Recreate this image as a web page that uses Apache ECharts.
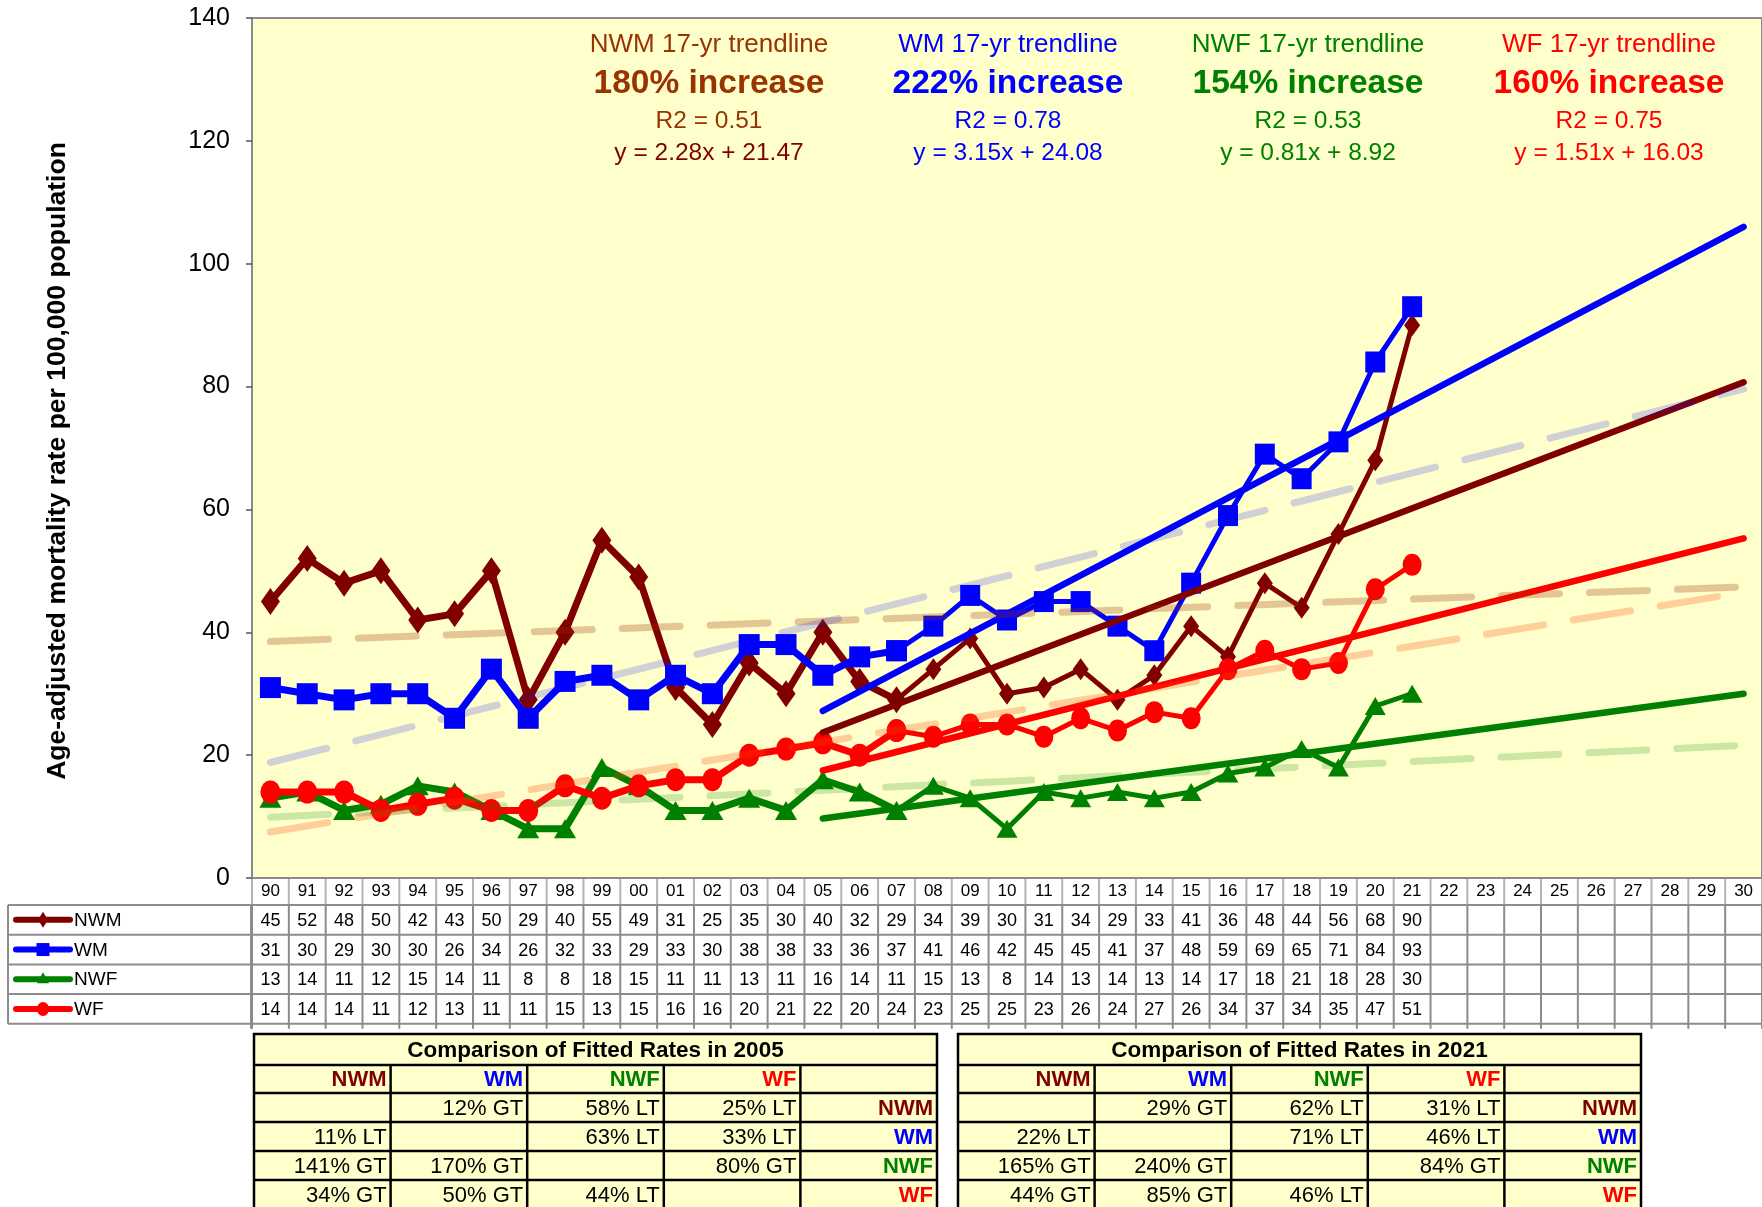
<!DOCTYPE html>
<html>
<head>
<meta charset="utf-8">
<style>
html, body { margin: 0; padding: 0; background: #fff; }
#main { width: 1762px; height: 1207px; }
</style>
</head>
<body>
<div id="main"></div>
<script src="https://cdn.jsdelivr.net/npm/echarts@6/dist/echarts.min.js"></script>
<script>
// ---- data ----
var years = ['90','91','92','93','94','95','96','97','98','99','00','01','02','03','04','05','06','07','08','09',
             '10','11','12','13','14','15','16','17','18','19','20','21','22','23','24','25','26','27','28','29','30'];

var nwm = [45,52,48,50,42,43,50,29,40,55,49,31,25,35,30,40,32,29,34,39,30,31,34,29,33,41,36,48,44,56,68,90];
var wm  = [31,30,29,30,30,26,34,26,32,33,29,33,30,38,38,33,36,37,41,46,42,45,45,41,37,48,59,69,65,71,84,93];
var nwf = [13,14,11,12,15,14,11,8,8,18,15,11,11,13,11,16,14,11,15,13,8,14,13,14,13,14,17,18,21,18,28,30];
var wf  = [14,14,14,11,12,13,11,11,15,13,15,16,16,20,21,22,20,24,23,25,25,23,26,24,27,26,34,37,34,35,47,51];

// 17-yr fitted trendlines: value at 05 and at 30
var nwmTrend = [23.7, 80.7];
var wmTrend  = [27.2, 106.0];
var nwfTrend = [9.7, 30.0];
var wfTrend  = [17.5, 55.3];

// long-term (dashed) trendlines: value at 90 and at 30
var nwmLong = [38.5, 47.4];
var wmLong  = [18.8, 79.6];
var nwfLong = [9.9, 21.6];
var wfLong  = [7.5, 46.5];

var trendTitles = ['NWM 17-yr trendline', 'WM 17-yr trendline', 'NWF 17-yr trendline', 'WF 17-yr trendline'];
var trendIncrease = ['180% increase', '222% increase', '154% increase', '160% increase'];
var trendR2 = ['R2 = 0.51', 'R2 = 0.78', 'R2 = 0.53', 'R2 = 0.75'];
var trendEq = ['y = 2.28x + 21.47', 'y = 3.15x + 24.08', 'y = 0.81x + 8.92', 'y = 1.51x + 16.03'];

var groupNames = ['NWM', 'WM', 'NWF', 'WF'];
var cmp2005 = [
  ['', '12% GT', '58% LT', '25% LT'],
  ['11% LT', '', '63% LT', '33% LT'],
  ['141% GT', '170% GT', '', '80% GT'],
  ['34% GT', '50% GT', '44% LT', '']
];
var cmp2021 = [
  ['', '29% GT', '62% LT', '31% LT'],
  ['22% LT', '', '71% LT', '46% LT'],
  ['165% GT', '240% GT', '', '84% GT'],
  ['44% GT', '85% GT', '46% LT', '']
];

// ---- styles ----
var FONT = '"Liberation Sans", Arial, sans-serif';
var NARROW = '"Liberation Sans Narrow", "Liberation Sans", sans-serif';
var ellipse = 'path://M0,10 A9,10 0 1 1 18,10 A9,10 0 1 1 0,10 Z';

var groups = [
  { name: 'NWM', data: nwm, trend: nwmTrend, long: nwmLong, color: '#800000', textColor: '#993300',
    symbol: 'diamond', size: [19, 27], size2: [16, 22], longOpacity: 0.28 },
  { name: 'WM', data: wm, trend: wmTrend, long: wmLong, color: '#0000ff', textColor: '#0000ff',
    symbol: 'rect', size: [21, 21], size2: [20, 21], longOpacity: 0.18 },
  { name: 'NWF', data: nwf, trend: nwfTrend, long: nwfLong, color: '#008000', textColor: '#008000',
    symbol: 'triangle', size: [22, 19], size2: [21, 18], longOpacity: 0.2 },
  { name: 'WF', data: wf, trend: wfTrend, long: wfLong, color: '#ff0000', textColor: '#ff0000',
    symbol: ellipse, size: [20, 23], size2: [19, 22], longOpacity: 0.25 }
];
var longColors = ['#993300', '#0000ff', '#008000', '#ff4000'];

var SPLIT = 17; // later years drawn thinner

function part(arr, from, to) {
  return years.map(function (y, i) {
    return (i >= from && i <= to && i < arr.length) ? arr[i] : null;
  });
}

var series = [];
groups.forEach(function (g) {
  series.push({
    type: 'line', name: g.name, data: part(g.data, 0, SPLIT),
    symbol: g.symbol, symbolSize: g.size, showAllSymbol: true,
    lineStyle: { color: g.color, width: 7, join: 'round', cap: 'round' },
    itemStyle: { color: g.color, borderWidth: 0 },
    z: 3
  });
  series.push({
    type: 'line', name: g.name + ' later', data: part(g.data, SPLIT, g.data.length - 1),
    symbol: g.symbol, symbolSize: g.size2, showAllSymbol: true,
    lineStyle: { color: g.color, width: 5, join: 'round', cap: 'round' },
    itemStyle: { color: g.color, borderWidth: 0 },
    z: 3
  });
});
groups.forEach(function (g) {
  series.push({
    type: 'line', name: g.name + ' trend', data: [[15, g.trend[0]], [40, g.trend[1]]],
    symbol: 'none', lineStyle: { color: g.color, width: 6.5, cap: 'round' }, z: 4
  });
});
groups.forEach(function (g, k) {
  series.push({
    type: 'line', name: g.name + ' long', data: [[0, g.long[0]], [40, g.long[1]]],
    symbol: 'none',
    lineStyle: { color: longColors[k], width: 7, type: [58, 30], cap: 'round', opacity: g.longOpacity },
    z: 5
  });
});

var chart = echarts.init(document.getElementById('main'));

var option = {
  animation: false,
  backgroundColor: '#ffffff',
  grid: {
    left: 252, right: 0, top: 18, bottom: 329,
    show: true, backgroundColor: '#ffffcc', borderColor: '#8a8a8a', borderWidth: 2
  },
  xAxis: {
    type: 'category', data: years, boundaryGap: true,
    axisLine: { lineStyle: { color: '#8a8a8a', width: 2 } },
    axisTick: { show: false },
    axisLabel: { interval: 0, margin: 5, fontSize: 17, color: '#000', fontFamily: FONT },
    splitLine: { show: false }
  },
  yAxis: {
    type: 'value', min: 0, max: 140, interval: 20,
    axisLine: { show: true, lineStyle: { color: '#8a8a8a', width: 2 } },
    axisTick: { show: true, length: 6, lineStyle: { color: '#555', width: 1.5 } },
    axisLabel: { margin: 22, fontSize: 25, color: '#000', fontFamily: FONT },
    splitLine: { show: false }
  },
  series: series
};
chart.setOption(option);

// ---- graphic: data table, legend swatches, annotations, comparison tables ----
var els = [];
var c0 = chart.convertToPixel({ xAxisIndex: 0 }, 0);
var c1 = chart.convertToPixel({ xAxisIndex: 0 }, 1);
var band = c1 - c0;
var axisY = chart.convertToPixel({ yAxisIndex: 0 }, 0);

var tableLeft = 8, legendRight = 252;
var headBottom = axisY + 27;
var rowH = 29.7;
var tableBottom = headBottom + rowH * 4;
var gridColor = '#8c8c8c';

function line(x1, y1, x2, y2, color, w) {
  els.push({ type: 'line', shape: { x1: x1, y1: y1, x2: x2, y2: y2 }, style: { stroke: color, lineWidth: w }, silent: true });
}
function text(x, y, str, opt) {
  els.push({
    type: 'text', x: x, y: y, silent: true, rotation: opt.rotation || 0,
    style: {
      text: str, fill: opt.color || '#000', fontSize: opt.size, fontWeight: opt.weight || 'normal',
      fontFamily: opt.family || FONT, align: opt.align || 'center', verticalAlign: 'middle'
    }
  });
}

// header separators
for (var i = 0; i <= years.length; i++) {
  var bx = c0 - band / 2 + i * band;
  line(bx, axisY, bx, headBottom, '#b4b4b4', 2);
  line(bx, headBottom, bx, tableBottom + 5, gridColor, 2);
}
// horizontal rules
for (var r = 0; r <= 4; r++) {
  line(tableLeft, headBottom + r * rowH, 1762, headBottom + r * rowH, gridColor, 2);
}
line(tableLeft, headBottom, tableLeft, tableBottom, gridColor, 2);
line(legendRight - 1, headBottom, legendRight - 1, tableBottom + 5, gridColor, 2);

groups.forEach(function (g, k) {
  var cy = headBottom + rowH * k + rowH / 2;
  g.data.forEach(function (v, j) {
    text(chart.convertToPixel({ xAxisIndex: 0 }, j), cy + 1, String(v), { size: 18 });
  });
  // legend swatch
  line(16, cy, 70, cy, g.color, 6);
  els[els.length - 1].style.lineCap = 'round';
  var mx = 43;
  if (k === 0) els.push({ type: 'polygon', shape: { points: [[mx, cy - 8], [mx + 5, cy], [mx, cy + 8], [mx - 5, cy]] }, style: { fill: g.color } });
  if (k === 1) els.push({ type: 'rect', shape: { x: mx - 6.5, y: cy - 6.5, width: 13, height: 13 }, style: { fill: g.color } });
  if (k === 2) els.push({ type: 'polygon', shape: { points: [[mx, cy - 7], [mx + 6, cy + 4], [mx - 6, cy + 4]] }, style: { fill: g.color } });
  if (k === 3) els.push({ type: 'ellipse', shape: { cx: mx, cy: cy, rx: 6, ry: 7 }, style: { fill: g.color } });
  text(74, cy + 1, g.name, { size: 19, align: 'left' });
});

// y axis title
text(58, 461, 'Age-adjusted mortality rate per 100,000 population',
  { size: 26.5, weight: 'bold', family: NARROW, rotation: Math.PI / 2 });

// trendline annotations
var annX = [709, 1008, 1308, 1609];
groups.forEach(function (g, k) {
  text(annX[k], 45, trendTitles[k], { size: 26, color: g.textColor });
  text(annX[k], 84, trendIncrease[k], { size: 33.5, weight: 'bold', color: g.textColor });
  text(annX[k], 121, trendR2[k], { size: 24.5, color: g.textColor });
  text(annX[k], 153, trendEq[k], { size: 24.5, color: g.color });
});

// comparison tables
function compTable(left, title, rows) {
  var top = 1034, colW = 136.6, titleH = 31, headH = 28, rH = 29;
  var w = colW * 5, bottom = 1215;
  els.push({ type: 'rect', shape: { x: left, y: top, width: w, height: bottom - top },
    style: { fill: '#ffffcc', stroke: '#000', lineWidth: 2.5 }, silent: true });
  text(left + w / 2, top + titleH / 2 + 1, title, { size: 22.5, weight: 'bold' });
  var y = top + titleH;
  line(left, y, left + w, y, '#000', 2.5);
  line(left, y + headH, left + w, y + headH, '#000', 2.5);
  for (var r = 1; r <= 4; r++) line(left, y + headH + r * rH, left + w, y + headH + r * rH, '#000', 2.5);
  for (var c = 1; c < 5; c++) line(left + c * colW, y, left + c * colW, bottom, '#000', 2.5);
  groupNames.forEach(function (n, k) {
    text(left + (k + 1) * colW - 4, y + headH / 2 + 1, n, { size: 22, weight: 'bold', family: NARROW, color: groups[k].color, align: 'right' });
  });
  rows.forEach(function (row, ri) {
    var cy = y + headH + ri * rH + rH / 2 + 1;
    row.forEach(function (v, c) {
      if (v) text(left + (c + 1) * colW - 4, cy, v, { size: 22, align: 'right' });
    });
    text(left + 5 * colW - 4, cy, groupNames[ri], { size: 22, weight: 'bold', family: NARROW, color: groups[ri].color, align: 'right' });
  });
}
compTable(254, 'Comparison of Fitted Rates in 2005', cmp2005);
compTable(958, 'Comparison of Fitted Rates in 2021', cmp2021);

chart.setOption({ graphic: els });
</script>
</body>
</html>
